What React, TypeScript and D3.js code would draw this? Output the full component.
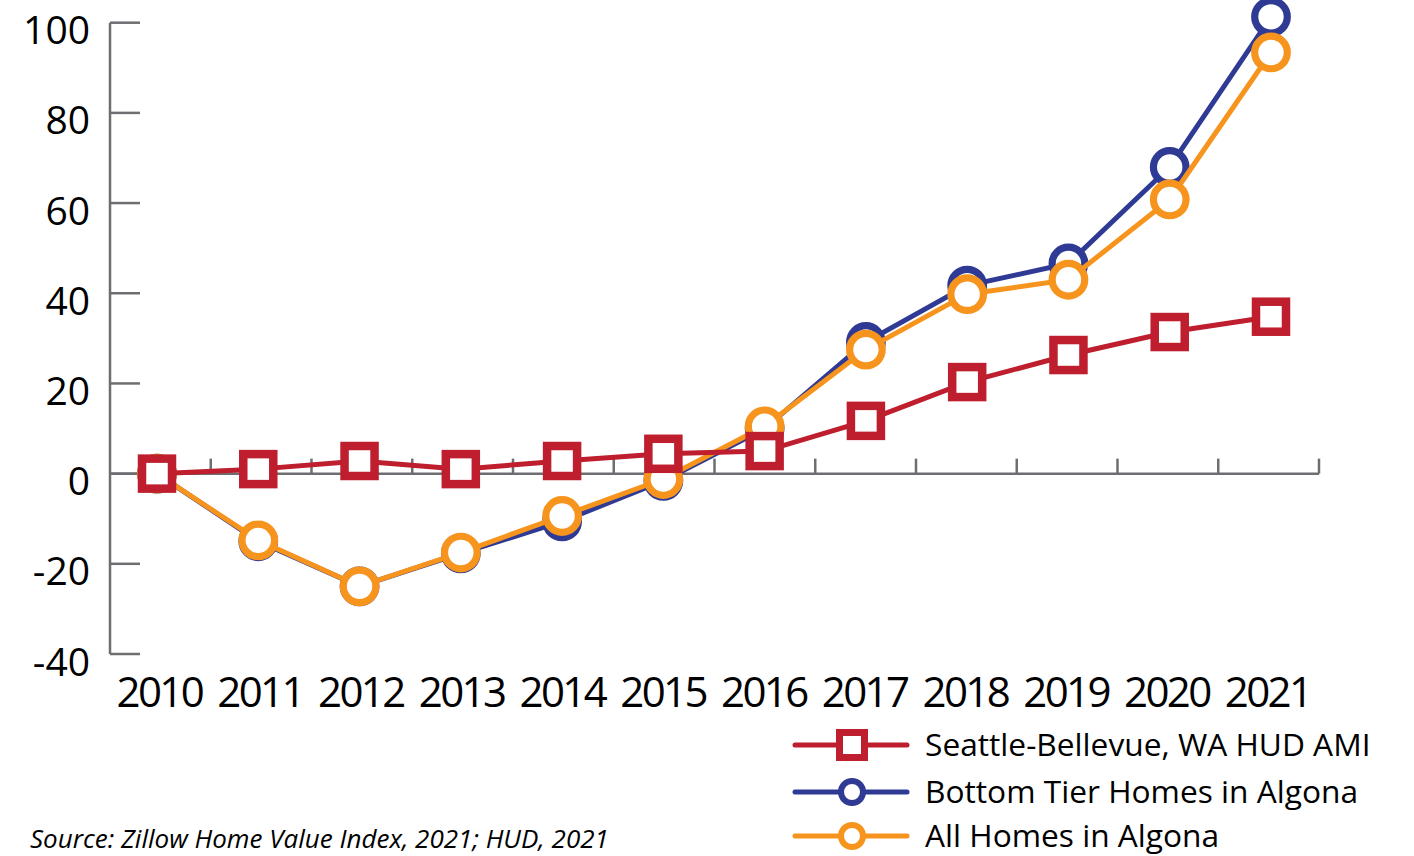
import React from "react";
import * as d3 from "d3";

const years = ["2010","2011","2012","2013","2014","2015","2016","2017","2018","2019","2020","2021"];
const seattleAMI = [0, 1, 2.8, 1, 2.8, 4.4, 5, 11.7, 20.3, 26.3, 31.4, 34.8];
const bottomTier = [0, -15, -25, -17.7, -10.6, -1.6, 10, 29.2, 41.7, 46.6, 68, 101.3];
const allHomes = [0, -14.8, -25, -17.5, -9.4, -1.2, 10.5, 27.5, 39.8, 43, 60.8, 93.4];
const yTicks = [-40, -20, 0, 20, 40, 60, 80, 100];
const legendLabels = ["Seattle-Bellevue, WA HUD AMI", "Bottom Tier Homes in Algona", "All Homes in Algona"];
const sourceText = "Source: Zillow Home Value Index, 2021; HUD, 2021";

const RED = "#BE1E2D";
const BLUE = "#2E3A93";
const ORANGE = "#F7941D";
const GRAY = "#6D6E71";
const FONT = "'Open Sans', 'Noto Sans', sans-serif";

export default function App() {
  const y = d3.scaleLinear().domain([-40, 100]).range([654, 22.7]);
  const xBand = d3.scaleBand().domain(years).range([110, 1319]);
  const xPt = d3.scalePoint().domain(years).range([157, 1271]);
  const line = d3.line<number>().x((_, i) => xPt(years[i])!).y((d) => y(d));

  const series = [
    { name: legendLabels[1], values: bottomTier, color: BLUE, shape: "circle" },
    { name: legendLabels[2], values: allHomes, color: ORANGE, shape: "circle" },
    { name: legendLabels[0], values: seattleAMI, color: RED, shape: "square" },
  ];

  const legendItems = [
    { label: legendLabels[0], color: RED, shape: "square" },
    { label: legendLabels[1], color: BLUE, shape: "circle" },
    { label: legendLabels[2], color: ORANGE, shape: "circle" },
  ];
  const legendY = [745, 792, 836];

  const y0 = y(0);
  const bandW = xBand.bandwidth();

  return (
    <svg width={1414} height={856} style={{ position: "absolute", left: 0, top: 0, background: "#fff" }} fontFamily={FONT}>
      {/* y axis */}
      <line x1={110} x2={110} y1={y(100)} y2={y(-40)} stroke={GRAY} strokeWidth={2.5} />
      {yTicks.map((t) => (
        <g key={t}>
          <line x1={110} x2={140} y1={y(t)} y2={y(t)} stroke={GRAY} strokeWidth={2.5} />
          <text x={90} y={y(t) + 21.5} textAnchor="end" fontSize={39} fill="#000">{t}</text>
        </g>
      ))}
      {/* x axis at zero */}
      <line x1={110} x2={1319} y1={y0} y2={y0} stroke={GRAY} strokeWidth={2.5} />
      {years.map((yr) => (
        <line key={yr} x1={xBand(yr)! + bandW} x2={xBand(yr)! + bandW} y1={y0} y2={y0 - 15} stroke={GRAY} strokeWidth={2.5} />
      ))}
      {years.map((yr) => (
        <text key={yr} x={xBand(yr)! + bandW / 2 - 1} y={706.5} textAnchor="middle" fontSize={42} letterSpacing={-2.6} fill="#000">{yr}</text>
      ))}
      {/* series */}
      {series.map((s) => (
        <g key={s.name}>
          <path d={line(s.values)!} fill="none" stroke={s.color} strokeWidth={5} />
          {s.values.map((v, i) =>
            s.shape === "circle" ? (
              <circle key={i} cx={xPt(years[i])} cy={y(v)} r={16.3} fill="#fff" stroke={s.color} strokeWidth={7.2} />
            ) : (
              <rect key={i} x={xPt(years[i])! - 15} y={y(v) - 15} width={30} height={30} fill="#fff" stroke={s.color} strokeWidth={8.5} />
            )
          )}
        </g>
      ))}
      {/* legend */}
      {legendItems.map((it, i) => (
        <g key={it.label}>
          <line x1={795} x2={907} y1={legendY[i]} y2={legendY[i]} stroke={it.color} strokeWidth={5} strokeLinecap="round" />
          {it.shape === "square" ? (
            <rect x={852 - 12.5} y={legendY[i] - 12.5} width={25} height={25} fill="#fff" stroke={it.color} strokeWidth={7} />
          ) : (
            <circle cx={852} cy={legendY[i]} r={11} fill="#fff" stroke={it.color} strokeWidth={6} />
          )}
          <text x={925} y={legendY[i] + 10.5} fontSize={31.7} fill="#000">{it.label}</text>
        </g>
      ))}
      <text x={30} y={848} fontSize={26} fontStyle="italic" fill="#000">{sourceText}</text>
    </svg>
  );
}
